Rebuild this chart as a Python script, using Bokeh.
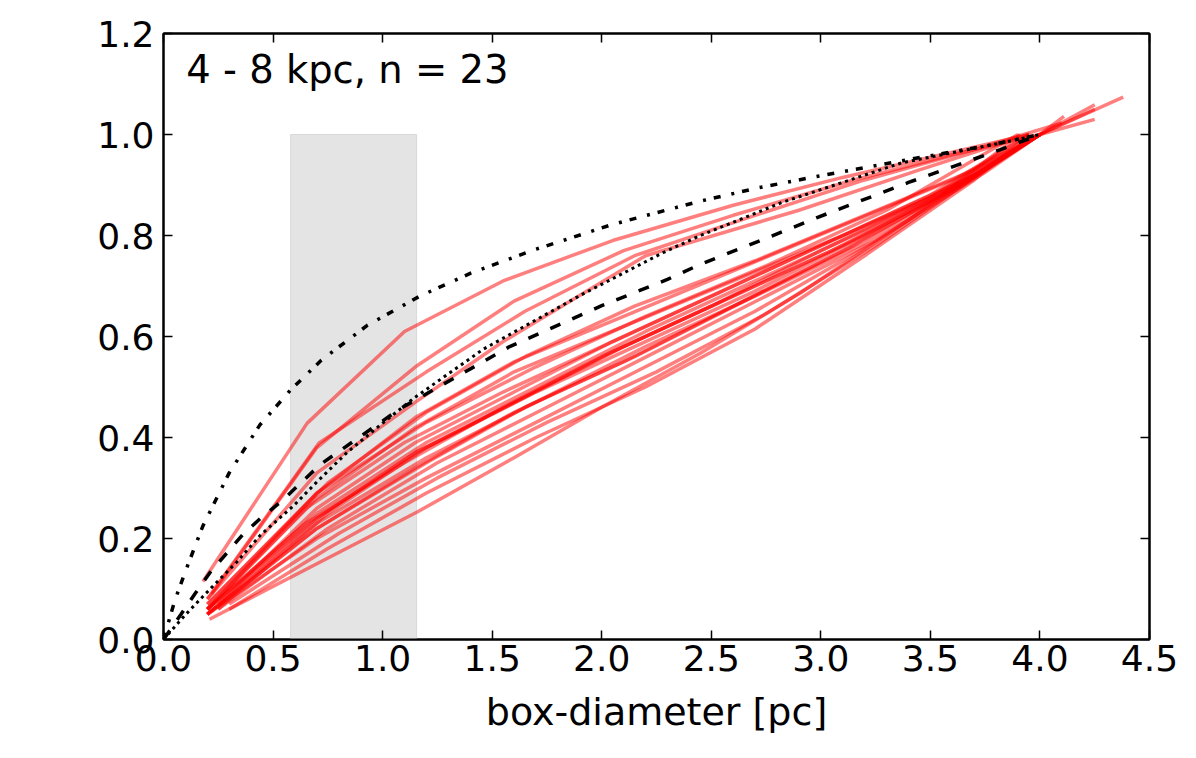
from bokeh.plotting import figure
from bokeh.models import Range1d, FixedTicker, LinearAxis, Label, PrintfTickFormatter, CustomJSTickFormatter
from bokeh.embed import file_html
from bokeh.resources import INLINE

# ---- data ----
x_ticks = [0.0, 0.5, 1.0, 1.5, 2.0, 2.5, 3.0, 3.5, 4.0, 4.5]
y_ticks = [0.0, 0.2, 0.4, 0.6, 0.8, 1.0, 1.2]
title_text = "4 - 8 kpc, n = 23"
x_label = "box-diameter [pc]"

shade_x = [0.58, 1.155]
shade_y = [0.0, 1.0]

# red profiles (23 regions)
red_x = [
    [0.18, 0.655, 1.10, 1.55, 2.05, 2.60, 3.10, 3.55, 3.95],
    [0.22, 0.70, 1.15, 1.60, 2.10, 2.60, 3.15, 3.60, 4.00, 4.25],
    [0.20, 0.71, 1.20, 1.65, 2.15, 2.70, 3.20, 3.70, 4.10],
    [0.20, 0.70, 1.15, 1.55, 2.20, 2.90, 3.45, 3.95],
    [0.20, 0.75, 1.20, 1.65, 2.15, 2.70, 3.20, 3.70, 4.00, 4.25],
    [0.20, 0.70, 1.20, 1.70, 2.20, 2.75, 3.30, 3.90],
    [0.20, 0.70, 1.15, 1.60, 2.10, 2.60, 3.10, 3.60, 4.00],
    [0.20, 0.70, 1.15, 1.60, 2.10, 2.60, 3.10, 3.60, 4.00],
    [0.20, 0.65, 1.10, 1.55, 2.00, 2.50, 3.00, 3.50, 3.95],
    [0.25, 0.70, 1.15, 1.60, 2.05, 2.55, 3.05, 3.55, 4.00],
    [0.20, 0.70, 1.20, 1.70, 2.20, 2.70, 3.20, 3.70, 4.00, 4.25],
    [0.20, 0.70, 1.15, 1.65, 2.10, 2.60, 3.10, 3.60, 4.00],
    [0.20, 0.65, 1.10, 1.55, 2.00, 2.50, 3.00, 3.50, 3.95],
    [0.25, 0.75, 1.20, 1.70, 2.20, 2.70, 3.20, 3.70, 4.00],
    [0.20, 0.70, 1.20, 1.70, 2.20, 2.70, 3.20, 3.70, 4.00],
    [0.20, 0.70, 1.15, 1.60, 2.10, 2.60, 3.10, 3.60, 4.00],
    [0.20, 0.70, 1.20, 1.65, 2.15, 2.65, 3.15, 3.65, 4.00],
    [0.25, 0.75, 1.25, 1.75, 2.25, 2.75, 3.25, 3.75, 4.00],
    [0.20, 0.70, 1.20, 1.70, 2.20, 2.70, 3.20, 3.70, 4.00],
    [0.20, 0.70, 1.15, 1.60, 2.05, 2.55, 3.05, 3.55, 4.00, 4.11],
    [0.30, 0.80, 1.25, 1.75, 2.25, 2.75, 3.25, 3.75, 4.00, 4.38],
    [0.30, 0.75, 1.20, 1.70, 2.20, 2.70, 3.20, 3.70, 3.95],
    [0.21, 0.70, 1.16, 1.60, 2.00, 2.45, 2.91, 3.40, 3.91],
]
red_y = [
    [0.115, 0.428, 0.61, 0.71, 0.79, 0.86, 0.915, 0.96, 1.00],
    [0.09, 0.38, 0.54, 0.67, 0.77, 0.84, 0.91, 0.96, 1.00, 1.059],
    [0.08, 0.389, 0.53, 0.65, 0.76, 0.84, 0.91, 0.97, 1.023],
    [0.08, 0.33, 0.47, 0.59, 0.76, 0.85, 0.93, 1.00],
    [0.07, 0.31, 0.45, 0.56, 0.66, 0.75, 0.84, 0.93, 1.00, 1.03],
    [0.06, 0.29, 0.43, 0.54, 0.64, 0.74, 0.85, 1.00],
    [0.07, 0.29, 0.44, 0.55, 0.64, 0.73, 0.82, 0.91, 1.00],
    [0.06, 0.28, 0.42, 0.53, 0.62, 0.71, 0.80, 0.90, 1.00],
    [0.06, 0.26, 0.39, 0.49, 0.58, 0.68, 0.78, 0.88, 1.00],
    [0.07, 0.26, 0.39, 0.49, 0.59, 0.69, 0.79, 0.885, 1.00],
    [0.06, 0.25, 0.39, 0.50, 0.61, 0.71, 0.81, 0.92, 1.00, 1.05],
    [0.05, 0.24, 0.37, 0.48, 0.58, 0.68, 0.78, 0.89, 1.00],
    [0.06, 0.23, 0.35, 0.46, 0.56, 0.66, 0.77, 0.875, 1.00],
    [0.06, 0.25, 0.38, 0.49, 0.59, 0.69, 0.80, 0.92, 1.00],
    [0.05, 0.23, 0.36, 0.47, 0.58, 0.68, 0.785, 0.915, 1.00],
    [0.05, 0.22, 0.34, 0.45, 0.55, 0.66, 0.77, 0.89, 1.00],
    [0.05, 0.22, 0.35, 0.46, 0.56, 0.67, 0.78, 0.905, 1.00],
    [0.06, 0.22, 0.35, 0.46, 0.57, 0.68, 0.79, 0.925, 1.00],
    [0.05, 0.20, 0.32, 0.43, 0.54, 0.65, 0.775, 0.915, 1.00],
    [0.06, 0.24, 0.37, 0.47, 0.57, 0.67, 0.77, 0.88, 1.00, 1.036],
    [0.07, 0.21, 0.32, 0.43, 0.53, 0.645, 0.78, 0.93, 1.00, 1.074],
    [0.06, 0.18, 0.29, 0.40, 0.50, 0.615, 0.76, 0.91, 1.00],
    [0.04, 0.15, 0.253, 0.36, 0.46, 0.567, 0.687, 0.83, 1.00],
]

# black model curves
dashdot_x = [0, 0.05, 0.10, 0.18, 0.30, 0.44, 0.58, 0.72, 0.93, 1.17, 1.40, 1.68, 2.05, 2.44, 2.71, 2.97, 3.37, 3.76, 4.0]
dashdot_y = [0, 0.075, 0.135, 0.225, 0.33, 0.425, 0.494, 0.553, 0.622, 0.68, 0.725, 0.77, 0.822, 0.867, 0.894, 0.916, 0.948, 0.978, 1.0]

dotted_x = [0, 0.10, 0.215, 0.336, 0.443, 0.594, 0.70, 0.837, 0.99, 1.143, 1.46, 1.90, 2.28, 2.45, 2.82, 3.37, 3.82, 4.0]
dotted_y = [0, 0.049, 0.101, 0.154, 0.207, 0.265, 0.312, 0.37, 0.425, 0.478, 0.575, 0.681, 0.766, 0.80, 0.865, 0.944, 0.983, 1.0]

dashed_x = [0, 0.08, 0.146, 0.215, 0.36, 0.443, 0.534, 0.617, 0.717, 1.08, 1.58, 2.0, 2.30, 2.45, 2.76, 2.98, 3.40, 3.82, 4.0]
dashed_y = [0, 0.05, 0.092, 0.134, 0.207, 0.24, 0.272, 0.306, 0.347, 0.457, 0.58, 0.661, 0.713, 0.743, 0.796, 0.835, 0.905, 0.97, 1.0]

FONT = "DejaVu Sans"

p = figure(
    frame_width=986, frame_height=606,
    min_border_left=163, min_border_right=39, min_border_top=33, min_border_bottom=100,
    x_range=Range1d(0, 4.5), y_range=Range1d(0, 1.2),
    output_backend="svg", toolbar_location=None,
)
p.background_fill_color = "white"
p.border_fill_color = "white"
p.outline_line_color = "black"
p.outline_line_width = 2
p.grid.visible = False

# shaded box
p.quad(left=[shade_x[0]], right=[shade_x[1]], bottom=[shade_y[0]], top=[shade_y[1]],
       fill_color="#e4e4e4", line_color="#d9d9d9", line_width=1)

# red profiles
p.multi_line(xs=red_x, ys=red_y, line_color="red", line_alpha=0.5, line_width=3.5)

# model curves
p.line(dashdot_x, dashdot_y, line_color="black", line_width=3.5, line_dash="7 11 3 8")
p.line(dotted_x, dotted_y, line_color="black", line_width=3, line_dash="3 4")
p.line(dashed_x, dashed_y, line_color="black", line_width=3.5, line_dash="11 13")

# axes
for ax in (p.xaxis[0], p.yaxis[0]):
    ax.major_tick_in = 9
    ax.major_tick_out = 0
    ax.minor_tick_line_color = None
    ax.major_tick_line_width = 1.5
    ax.axis_line_width = 2
    ax.major_label_text_font = FONT
    ax.major_label_text_font_size = "36px"
    ax.major_label_text_color = "black"
    ax.formatter = PrintfTickFormatter(format="%.1f")

p.xaxis[0].ticker = FixedTicker(ticks=x_ticks)
p.yaxis[0].ticker = FixedTicker(ticks=y_ticks)
p.xaxis[0].major_label_standoff = 5
p.yaxis[0].major_label_standoff = 9
p.xaxis[0].axis_label = x_label
p.xaxis[0].axis_label_text_font = FONT
p.xaxis[0].axis_label_text_font_size = "38px"
p.xaxis[0].axis_label_text_font_style = "normal"
p.xaxis[0].axis_label_text_color = "black"
p.xaxis[0].axis_label_standoff = 16

top_ax = LinearAxis(ticker=FixedTicker(ticks=x_ticks))
right_ax = LinearAxis(ticker=FixedTicker(ticks=y_ticks))
for ax in (top_ax, right_ax):
    ax.major_tick_in = 9
    ax.major_tick_out = 0
    ax.minor_tick_line_color = None
    ax.major_tick_line_width = 1.5
    ax.axis_line_width = 2
    ax.formatter = CustomJSTickFormatter(code="return ''")
    ax.major_label_standoff = 0
p.add_layout(top_ax, "above")
p.add_layout(right_ax, "right")

p.add_layout(Label(x=0.104, y=1.128, text=title_text, text_font=FONT,
                   text_font_size="38.5px", text_color="black", text_baseline="alphabetic"))

open("out.html", "w").write(file_html(p, INLINE))
